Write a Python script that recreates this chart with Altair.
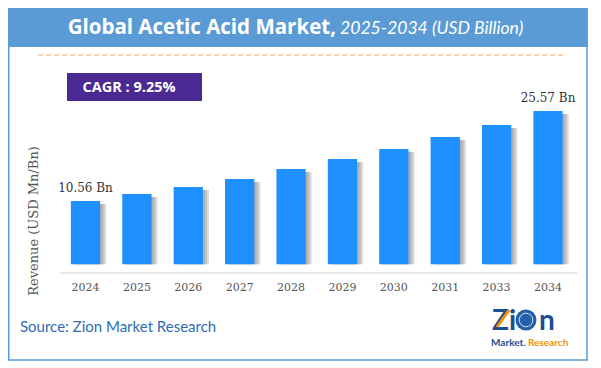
import altair as alt
import pandas as pd

# ---- data ----
years = ["2024", "2025", "2026", "2027", "2028", "2029", "2030", "2031", "2033", "2034"]
values = [10.56, 11.73, 12.89, 14.23, 15.90, 17.56, 19.23, 21.23, 23.24, 25.57]
label_years = ["2024", "2034"]
label_texts = ["10.56 Bn", "25.57 Bn"]
label_values = [10.56, 25.57]

title_main = "Global Acetic Acid Market,"
title_sub = "2025-2034 (USD Billion)"
cagr_text = "CAGR :  9.25%"
y_title = "Revenue (USD Mn/Bn)"
source_text = "Source: Zion Market Research"

# ---- layout (svg coordinates, page minus 8px margin) ----
W, H = 585, 354
BOX_R = 579
BASE_Y = 265
BLUE_BAR = "#1E90FF"
BANNER = "#5B9BD5"

df = pd.DataFrame({"year": years, "value": values})
lab = pd.DataFrame({"year": label_years, "value": label_values, "text": label_texts})
one = pd.DataFrame({"k": [0]})

xscale = alt.Scale(domain=years, range=[51.8, 565.7], paddingInner=0.43, paddingOuter=0.215)
yscale = alt.Scale(domain=[0, 25.57], range=[256.3, 103])

X = alt.X("year:N", sort=None, scale=xscale, axis=None)
Y = alt.Y("value:Q", scale=yscale, axis=None)

base1 = alt.Chart(one)

border = base1.mark_rect(fill="white", stroke=BANNER, strokeWidth=1.5).encode(
    x=alt.value(0.75), x2=alt.value(BOX_R), y=alt.value(0.75), y2=alt.value(352))
banner = base1.mark_rect(fill=BANNER).encode(
    x=alt.value(0), x2=alt.value(BOX_R + 0.75), y=alt.value(0), y2=alt.value(39))
t1 = base1.mark_text(text=title_main, font="Open Sans", fontSize=20.5, fontWeight="bold",
                     color="white", align="right", baseline="alphabetic").encode(
    x=alt.value(328), y=alt.value(26))
t2 = base1.mark_text(text=title_sub, font="Lato", fontSize=17.6, fontStyle="italic",
                     color="white", align="left", baseline="alphabetic").encode(
    x=alt.value(332), y=alt.value(26))
dash = base1.mark_rule(color="#F2A46E", strokeDash=[5, 3], strokeWidth=1.2).encode(
    x=alt.value(30), x2=alt.value(557), y=alt.value(47))
cagr_box = base1.mark_rect(fill="#4A2A92").encode(
    x=alt.value(59), x2=alt.value(194), y=alt.value(65), y2=alt.value(93))
cagr = base1.mark_text(text=cagr_text, font="Open Sans", fontSize=14.5, fontWeight="bold",
                       color="white", align="center", baseline="middle").encode(
    x=alt.value(121), y=alt.value(80))
ytitle = base1.mark_text(text=y_title, font="DejaVu Serif", fontSize=13, color="#555555",
                         angle=270, align="center", baseline="middle").encode(
    x=alt.value(25.5), y=alt.value(213))

bars_base = alt.Chart(df)
shadows = [
    bars_base.mark_bar(color="#7f7f7f", opacity=0.28, xOffset=off, yOffset=3).encode(
        x=X, y=Y, y2=alt.value(BASE_Y))
    for off in (2, 4, 6)
]
bars = bars_base.mark_bar(color=BLUE_BAR).encode(x=X, y=Y, y2=alt.value(BASE_Y))
axis_line = base1.mark_rule(color="#cfcfcf", strokeWidth=1.2).encode(
    x=alt.value(52), x2=alt.value(569), y=alt.value(BASE_Y))
year_labels = bars_base.mark_text(font="DejaVu Serif", fontSize=11, color="#555555",
                                  baseline="alphabetic").encode(
    x=X, y=alt.value(283), text="year:N")
value_labels = alt.Chart(lab).mark_text(font="DejaVu Serif", fontSize=12, color="#333333",
                                        baseline="alphabetic", dy=-9).encode(
    x=X, y=Y, text="text:N")

source = base1.mark_text(text=source_text, font="Lato", fontSize=15, color="#2E6DB4",
                         align="left", baseline="alphabetic").encode(
    x=alt.value(12), y=alt.value(324))

# logo
logo_z = base1.mark_text(text="Zi", font="Lato", fontSize=28, fontWeight="bold",
                         color="#1B4E94", align="left", baseline="alphabetic").encode(
    x=alt.value(484), y=alt.value(322))
logo_globe = base1.mark_point(shape="circle", filled=True, size=440, color="#2460A7",
                              opacity=1).encode(x=alt.value(518), y=alt.value(312))
logo_globe2 = base1.mark_point(shape="circle", filled=False, size=185, color="white",
                               strokeWidth=1, opacity=0.8).encode(x=alt.value(518), y=alt.value(312))
logo_n = base1.mark_text(text="n", font="Lato", fontSize=28, fontWeight="bold",
                         color="#1B4E94", align="left", baseline="alphabetic").encode(
    x=alt.value(531), y=alt.value(322))
logo_arrow = base1.mark_rule(color="#F39200", strokeWidth=3).encode(
    x=alt.value(489), x2=alt.value(501), y=alt.value(319), y2=alt.value(302))
logo_m = base1.mark_text(text="Market.", font="Lato", fontSize=10, fontWeight="bold",
                         color="#1B4E94", align="left", baseline="alphabetic").encode(
    x=alt.value(483), y=alt.value(338))
logo_r = base1.mark_text(text="Research", font="Lato", fontSize=10, fontWeight="bold",
                         color="#F39200", align="left", baseline="alphabetic").encode(
    x=alt.value(520), y=alt.value(338))

chart = alt.layer(
    border, banner, t1, t2, dash, cagr_box, cagr, ytitle,
    *shadows, bars, axis_line, year_labels, value_labels, source,
    logo_globe, logo_globe2, logo_z, logo_n, logo_arrow, logo_m, logo_r,
).properties(
    width=W, height=H, padding=0, autosize="none", background="white"
).configure_view(stroke=None)

chart.save("out.html", embed_options={"renderer": "svg", "actions": False})
